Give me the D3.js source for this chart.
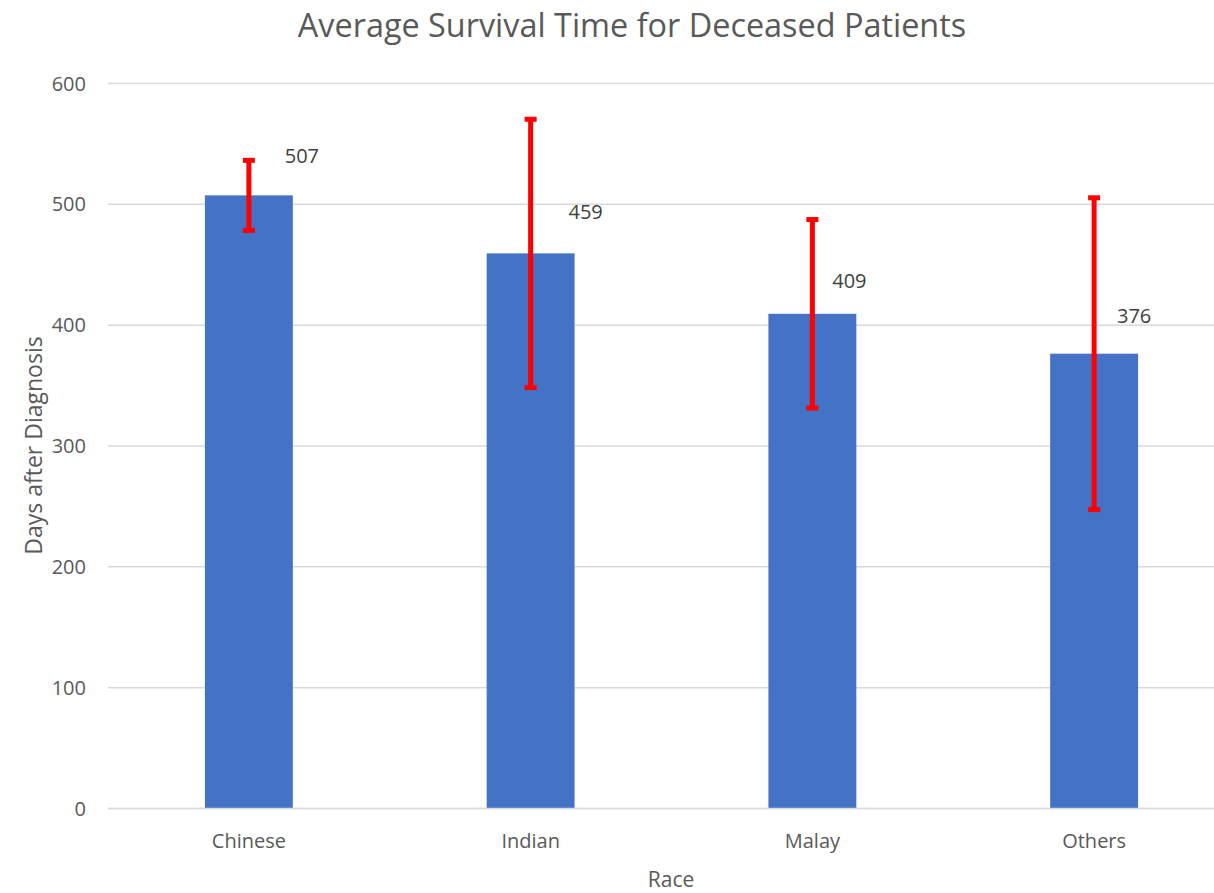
<!DOCTYPE html>
<html>
<head>
<meta charset="utf-8">
<script src="https://cdn.jsdelivr.net/npm/d3@7"></script>
<style>
  html, body { margin: 0; padding: 0; background: #fff; }
  svg { display: block; }
  text { font-family: "Open Sans", sans-serif; fill: #595959; }
</style>
</head>
<body>
<svg id="chart" width="1214" height="893"></svg>
<script>
const categories = ["Chinese", "Indian", "Malay", "Others"];
const values = [507, 459, 409, 376];
const errors = [29, 111, 78, 129];
const yTicks = [0, 100, 200, 300, 400, 500, 600];
// manual label offsets (px) relative to bar centre / bar top, as in the original
const labelDx = [53, 55, 37, 40];
const labelDy = [-32, -34, -26, -31];

(function () {
const svg = d3.select("#chart");
const pLeft = 108, pRight = 1235, pTop = 83, pBottom = 808;

const pi = 0.688;
const x = d3.scaleBand().domain(categories).range([pLeft, pRight])
  .paddingInner(pi).paddingOuter(pi / 2);
const y = d3.scaleLinear().domain([0, 600]).range([pBottom, pTop]);

// gridlines
svg.append("g")
  .selectAll("line").data(yTicks).join("line")
  .attr("x1", pLeft).attr("x2", pRight)
  .attr("y1", d => y(d) + 0.5).attr("y2", d => y(d) + 0.5)
  .attr("stroke", "#D9D9D9").attr("stroke-width", 1.5);

// y axis labels
const yAxis = d3.axisLeft(y).tickValues(yTicks).tickSize(0).tickPadding(0);
const gy = svg.append("g").attr("transform", `translate(86,0)`).call(yAxis);
gy.select(".domain").remove();
gy.selectAll("text").style("font-size", "20px").attr("fill", "#595959")
  .style("font-family", "'Open Sans', sans-serif").attr("dy", "0.35em").attr("x", 0);

// bars
svg.append("g").selectAll("rect").data(categories).join("rect")
  .attr("x", d => x(d)).attr("width", x.bandwidth())
  .attr("y", (d, i) => y(values[i]))
  .attr("height", (d, i) => y(0) - y(values[i]))
  .attr("fill", "#4472C4");

// x axis baseline
svg.append("line").attr("x1", pLeft).attr("x2", pRight)
  .attr("y1", y(0) + 0.5).attr("y2", y(0) + 0.5)
  .attr("stroke", "#D9D9D9").attr("stroke-width", 1.5);

// error bars
const eg = svg.append("g");
categories.forEach((c, i) => {
  const cx = x(c) + x.bandwidth() / 2;
  const y1 = y(values[i] + errors[i]), y2 = y(values[i] - errors[i]);
  eg.append("line").attr("x1", cx).attr("x2", cx).attr("y1", y1).attr("y2", y2)
    .attr("stroke", "#FF0000").attr("stroke-width", 5);
  [y1, y2].forEach(yy => {
    eg.append("line").attr("x1", cx - 6).attr("x2", cx + 6).attr("y1", yy).attr("y2", yy)
      .attr("stroke", "#FF0000").attr("stroke-width", 5);
  });
});

// data labels
svg.append("g").selectAll("text").data(categories).join("text")
  .attr("x", (d, i) => x(d) + x.bandwidth() / 2 + labelDx[i])
  .attr("y", (d, i) => y(values[i]) + labelDy[i])
  .attr("text-anchor", "middle")
  .style("font-size", "20px").style("fill", "#404040")
  .text((d, i) => values[i]);

// x axis labels
const xAxis = d3.axisBottom(x).tickSize(0).tickPadding(0);
const gx = svg.append("g").attr("transform", `translate(0,848)`).call(xAxis);
gx.select(".domain").remove();
gx.selectAll("text").style("font-size", "20px").attr("fill", "#595959")
  .style("font-family", "'Open Sans', sans-serif").attr("dy", 0).attr("y", 0);

// title
svg.append("text").attr("x", 632).attr("y", 37).attr("text-anchor", "middle")
  .style("font-size", "32.4px").text("Average Survival Time for Deceased Patients");

// axis titles
svg.append("text").attr("x", 671).attr("y", 887).attr("text-anchor", "middle")
  .style("font-size", "21px").text("Race");
svg.append("text").attr("transform", `translate(42,${(pTop + pBottom) / 2}) rotate(-90)`)
  .attr("text-anchor", "middle").style("font-size", "23px").text("Days after Diagnosis");
})();
</script>
</body>
</html>
